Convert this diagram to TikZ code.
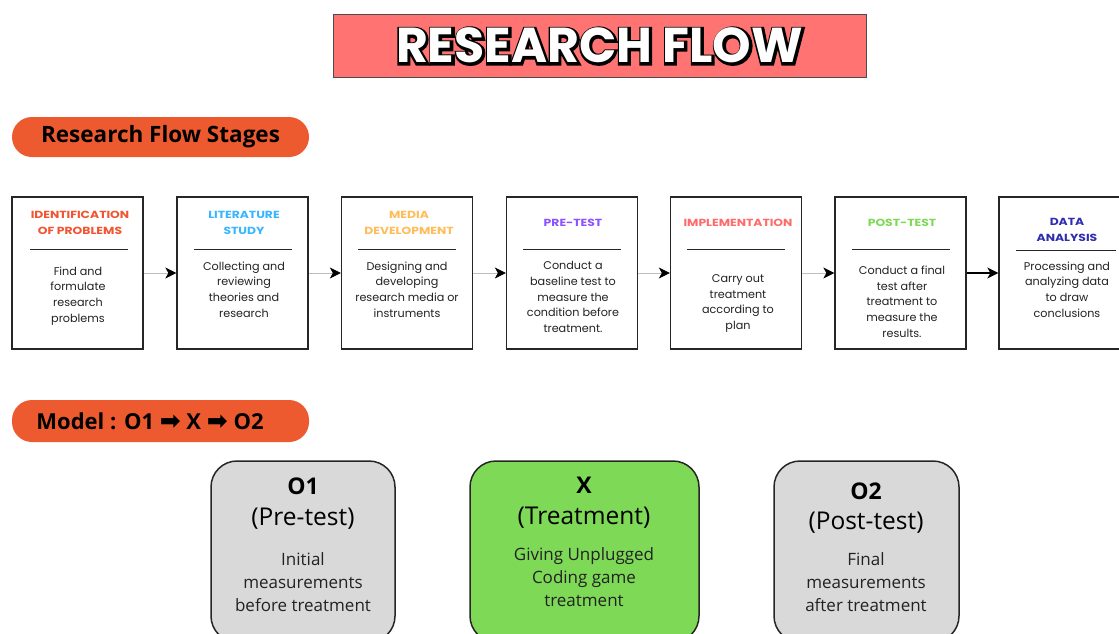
\documentclass[tikz,border=0pt]{standalone}
\usepackage{fontspec}
\setmainfont{Open Sans}
\newfontfamily\pop{Poppins}
\newfontfamily\popwide[FakeStretch=1.2]{Poppins}
\newfontfamily\popoutline[FakeBold=9]{Poppins}
\newfontfamily\dejavu{DejaVu Sans}
\usetikzlibrary{arrows.meta}
\definecolor{titlered}{HTML}{FF7373}
\definecolor{pillorange}{HTML}{EE5A2F}
\definecolor{cIdent}{HTML}{F25430}
\definecolor{cLit}{HTML}{38B6FF}
\definecolor{cMedia}{HTML}{FFBD59}
\definecolor{cPre}{HTML}{8C52FF}
\definecolor{cImpl}{HTML}{FF6B6B}
\definecolor{cPost}{HTML}{7ED957}
\definecolor{cData}{HTML}{2E2EB0}
\definecolor{boxgray}{HTML}{D9D9D9}
\definecolor{boxgreen}{HTML}{7ED957}
\definecolor{bodytext}{HTML}{222222}
\begin{document}
\begin{tikzpicture}[x=1pt,y=-1pt,
  stagebox/.style={draw=black!85, line width=1.3pt, minimum width=131pt, minimum height=152pt, inner sep=0pt},
  stagehead/.style={font=\popwide\bfseries\fontsize{10.3}{16.5}\selectfont, align=center, inner sep=0pt},
  stagebody/.style={font=\pop\fontsize{11.2}{15.7}\selectfont, align=center, inner sep=0pt, text=bodytext},
  stagerule/.style={line width=1pt, black!85},
  flowarrow/.style={draw=black!25, line width=0.8pt, -{Stealth[length=11pt,width=11pt,inset=3pt,black]}},
  pill/.style={fill=pillorange, minimum width=297pt, rounded corners=20pt, inner sep=0pt, font=\bfseries\fontsize{22.5}{25}\selectfont},
  modelbox/.style={draw=black!85, line width=1.5pt, rounded corners=26pt},
  modeltitle/.style={font=\bfseries\fontsize{23}{26}\selectfont, inner sep=0pt},
  modelsub/.style={font=\fontsize{24.5}{27}\selectfont, inner sep=0pt},
  modelbody/.style={font=\fontsize{17}{23}\selectfont, align=center, inner sep=0pt, text=bodytext},
  titletext/.style={font=\bfseries\fontsize{49}{54}\selectfont, inner sep=0pt}
]
\useasboundingbox (0,0) rectangle (1119,633);
\fill[white] (0,0) rectangle (1119,633);

% Title
\node[draw=black!70, line width=1pt, fill=titlered, minimum width=533pt, minimum height=63pt, inner sep=0pt] (title) at (599.5,45.5) {};
\node[titletext, font=\popoutline\bfseries\fontsize{49}{54}\selectfont, text=black] (titleshadow) at ([shift={(0.6,0.6)}]title.center) {RESEARCH FLOW};
\node[titletext, font=\pop\bfseries\fontsize{49}{54}\selectfont, text=white] (titlelabel) at (title.center) {RESEARCH FLOW};

% Pill 1
\node[pill, minimum height=40pt] (pill1) at (160.5,137) {Research Flow Stages};

% Stage boxes
\node[stagebox] (s1) at (77.5,273) {};
\node[stagebox] (s2) at (242.5,273) {};
\node[stagebox] (s3) at (407,273) {};
\node[stagebox] (s4) at (572,273) {};
\node[stagebox] (s5) at (736,273) {};
\node[stagebox] (s6) at (900.5,273) {};
\node[stagebox] (s7) at (1064.5,273) {};

% Rules
\foreach \c in {79,242.5,407,572,736,900.5}
  \draw[stagerule] (\c-49,249) -- (\c+49,249);
\draw[stagerule] (1016,250) -- (1116,250);

% Headings
\node[stagehead, text=cIdent] (h1) at (80,223) {IDENTIFICATION\\OF PROBLEMS};
\node[stagehead, text=cLit] (h2) at (244,223) {LITERATURE\\STUDY};
\node[stagehead, text=cMedia] (h3) at (409,223) {MEDIA\\DEVELOPMENT};
\node[stagehead, text=cPre] (h4) at (573,223) {PRE-TEST};
\node[stagehead, text=cImpl] (h5) at (738,223) {IMPLEMENTATION};
\node[stagehead, text=cPost] (h6) at (902,223) {POST-TEST};
\node[stagehead, text=cData] (h7) at (1067,230) {DATA\\ANALYSIS};

% Bodies
\node[stagebody] (b1) at (78,296) {Find and\\formulate\\research\\problems};
\node[stagebody] (b2) at (244,289.5) {Collecting and\\reviewing\\theories and\\research};
\node[stagebody] (b3) at (407,289.5) {Designing and\\developing\\research media or\\instruments};
\node[stagebody] (b4) at (573,297) {Conduct a\\baseline test to\\measure the\\condition before\\treatment.};
\node[stagebody] (b5) at (738,303.5) {Carry out\\treatment\\according to\\plan};
\node[stagebody] (b6) at (902,301.5) {Conduct a final\\test after\\treatment to\\measure the\\results.};
\node[stagebody] (b7) at (1067,289.5) {Processing and\\analyzing data\\to draw\\conclusions};

% Arrows
\draw[flowarrow] (s1) -- (s2);
\draw[flowarrow] (s2) -- (s3);
\draw[flowarrow] (s3) -- (s4);
\draw[flowarrow] (s4) -- (s5);
\draw[flowarrow] (s5) -- (s6);
\draw[flowarrow, draw=black, line width=1.3pt] (s6) -- (s7);

% Pill 2
\node[pill, minimum height=42pt] (pill2) at (160.5,421) {};
\node[font=\bfseries\fontsize{22}{25}\selectfont, inner sep=0pt] (pill2label) at (150,421) {Model : O1 {\dejavu\fontsize{25}{26}\selectfont\raisebox{-0.5pt}{➡}} X {\dejavu\fontsize{25}{26}\selectfont\raisebox{-0.5pt}{➡}} O2};

% Model boxes
\draw[modelbox, fill=boxgray] (211,461) rectangle (395,642);
\draw[modelbox, fill=boxgreen] (470,461) rectangle (699,642);
\draw[modelbox, fill=boxgray] (774,461) rectangle (959,642);

\node[modeltitle] (o1t) at (303,486) {O1};
\node[modelsub] (o1s) at (303,519) {(Pre-test)};
\node[modelbody] (o1b) at (303,582) {Initial\\measurements\\before treatment};

\node[modeltitle] (xt) at (584,485) {X};
\node[modelsub] (xs) at (584,518) {(Treatment)};
\node[modelbody] (xb) at (584,577) {Giving Unplugged\\Coding game\\treatment};

\node[modeltitle] (o2t) at (866,491) {O2};
\node[modelsub] (o2s) at (866,523) {(Post-test)};
\node[modelbody] (o2b) at (866,582) {Final\\measurements\\after treatment};
\end{tikzpicture}
\end{document}
